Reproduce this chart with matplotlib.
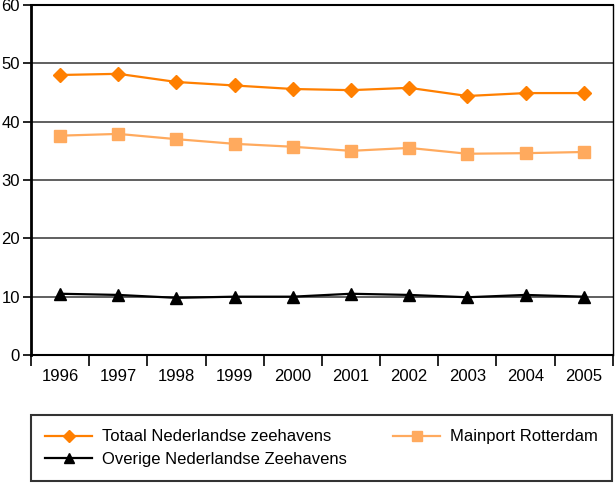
import matplotlib.pyplot as plt
import numpy as np

years = ['1996', '1997', '1998', '1999', '2000', '2001', '2002', '2003', '2004', '2005']
totaal = [48.0, 48.2, 46.8, 46.2, 45.6, 45.4, 45.8, 44.4, 44.9, 44.9]
rotterdam = [37.6, 37.9, 37.0, 36.2, 35.7, 35.0, 35.5, 34.5, 34.6, 34.8]
overige = [10.5, 10.3, 9.8, 10.0, 10.0, 10.5, 10.3, 9.9, 10.3, 10.0]

plt.rcParams['font.family'] = ['Liberation Sans', 'DejaVu Sans']

fig = plt.figure(figsize=(6.15, 4.84), dpi=100)
ax = fig.add_axes([0.0504, 0.2665, 0.946, 0.7232])

x = np.arange(len(years))
l1, = ax.plot(x, totaal, color='#FF7F00', lw=1.6, marker='D', ms=7,
              label='Totaal Nederlandse zeehavens', zorder=4)
l2, = ax.plot(x, rotterdam, color='#FFAA5E', lw=1.6, marker='s', ms=8.5,
              label='Mainport Rotterdam', zorder=3)
l3, = ax.plot(x, overige, color='black', lw=1.6, marker='^', ms=8.5,
              label='Overige Nederlandse Zeehavens', zorder=5)

ax.set_xlim(-0.5, len(years) - 0.5)
ax.set_ylim(0, 60)
ax.set_yticks(range(0, 61, 10))
ax.set_xticks(x)
ax.set_xticklabels(years, fontsize=12)
ax.set_xticks(np.arange(-0.5, len(years), 1), minor=True)
ax.tick_params(axis='x', which='major', length=0, pad=10)
ax.tick_params(axis='x', which='minor', length=8, width=1.2, direction='out')
ax.tick_params(axis='y', length=6, width=1.2, labelsize=12, pad=2)

for v in range(10, 60, 10):
    ax.axhline(v, color='#444444', lw=1.2, zorder=1)

ax.spines['left'].set_linewidth(2)
ax.spines['bottom'].set_linewidth(1.5)
ax.spines['top'].set_linewidth(1.5)
ax.spines['right'].set_linewidth(1)

leg = fig.legend(handles=[l1, l3, l2], ncol=2,
                 bbox_to_anchor=(31 / 615, 3 / 484), loc='lower left',
                 borderaxespad=0, fontsize=12, frameon=True, fancybox=False,
                 edgecolor='black', handlelength=2.8, handletextpad=0.6,
                 numpoints=1, borderpad=0.85, columnspacing=2.8,
                 labelspacing=0.45, markerscale=0.9)
leg.get_frame().set_linewidth(1.5)

fig.savefig('out.png', dpi=100)
